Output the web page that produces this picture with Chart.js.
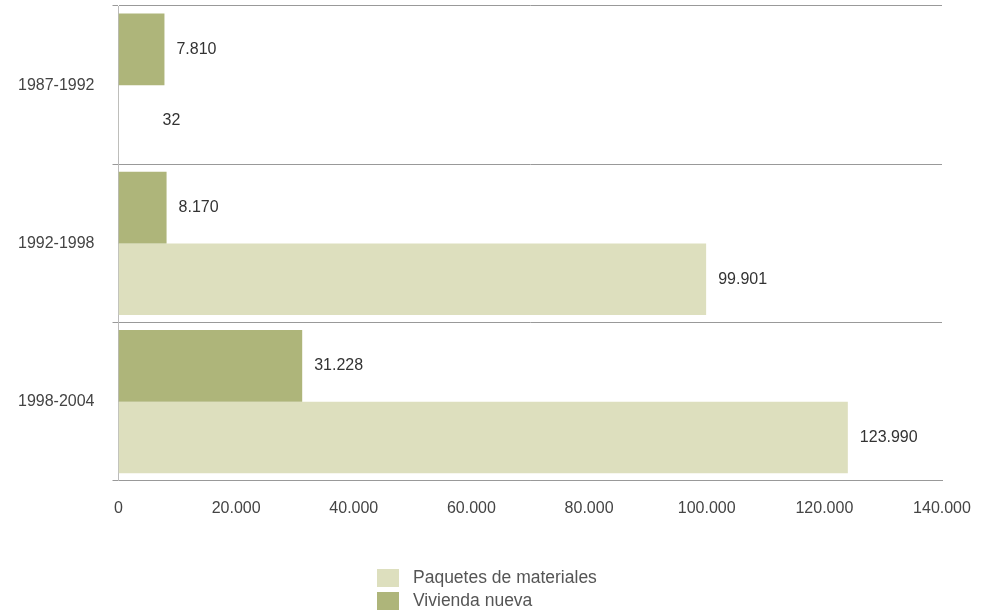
<!DOCTYPE html>
<html>
<head>
<meta charset="utf-8">
<script src="https://cdn.jsdelivr.net/npm/chart.js@4.4.1/dist/chart.umd.min.js"></script>
<style>
  body { margin: 0; background: #fff; font-family: "Liberation Sans", Arial, sans-serif; }
  #wrap { position: relative; width: 989px; height: 613px; }
  #legend { position: absolute; left: 377px; top: 566px; font-size: 17.5px; color: #555; }
  #legend div { display: flex; align-items: center; height: 23px; }
  #legend span.box { display: inline-block; width: 22px; height: 18px; margin-right: 14px; }
</style>
</head>
<body>
<div id="wrap">
  <canvas id="chart" width="989" height="613"></canvas>
  <div id="legend"></div>
</div>
<script>
// data
const periods = ['1987-1992', '1992-1998', '1998-2004'];
const viviendaNueva = [7810, 8170, 31228];
const paquetesMateriales = [32, 99901, 123990];
const xTicks = [0, 20000, 40000, 60000, 80000, 100000, 120000, 140000];

const colorVivienda = '#aeb57a';
const colorPaquetes = '#dddfbe';

// 123990 -> "123.990"
function fmt(n) {
    return String(n).replace(/\B(?=(\d{3})+(?!\d))/g, '.');
}

// value labels at the end of every bar
const valueLabels = {
    id: 'valueLabels',
    afterDatasetsDraw(chart) {
        const ctx = chart.ctx;
        const left = chart.scales.x.left;
        ctx.save();
        ctx.font = '16px "Liberation Sans", Arial, sans-serif';
        ctx.fillStyle = '#333';
        ctx.textBaseline = 'middle';
        chart.data.datasets.forEach((ds, i) => {
            chart.getDatasetMeta(i).data.forEach((bar, j) => {
                const x = Math.max(bar.x, left + 32) + 12;
                ctx.fillText(fmt(ds.data[j]), x, bar.y);
            });
        });
        ctx.restore();
    }
};

const ctx = document.getElementById('chart').getContext('2d');
new Chart(ctx, {
    type: 'bar',
    data: {
        labels: periods,
        datasets: [{
            label: 'Vivienda nueva',
            data: viviendaNueva,
            backgroundColor: colorVivienda
        }, {
            label: 'Paquetes de materiales',
            data: paquetesMateriales,
            backgroundColor: colorPaquetes
        }]
    },
    options: {
        indexAxis: 'y',
        responsive: false,
        animation: false,
        categoryPercentage: 0.905,
        barPercentage: 1.0,
        layout: {
            autoPadding: false,
            padding: { left: 0, right: 47, top: 6, bottom: 77 }
        },
        scales: {
            x: {
                min: 0,
                max: 140000,
                afterBuildTicks: axis => {
                    axis.ticks = xTicks.map(v => ({ value: v }));
                },
                // tick padding would otherwise also be added to the sides
                afterFit: axis => {
                    axis.paddingLeft = 0;
                    axis.paddingRight = 0;
                },
                grid: { display: false, drawTicks: false },
                border: { display: true, color: '#999' },
                ticks: {
                    padding: 18,
                    maxRotation: 0,
                    color: '#444',
                    font: { size: 16, family: '"Liberation Sans", Arial, sans-serif' },
                    callback: v => fmt(v)
                }
            },
            y: {
                afterFit: axis => {
                    axis.paddingTop = 0;
                    axis.paddingBottom = 0;
                },
                grid: { color: '#999', tickLength: 6, offset: true },
                border: { color: '#bbb' },
                ticks: {
                    padding: 18,
                    color: '#444',
                    font: { size: 16, family: '"Liberation Sans", Arial, sans-serif' }
                }
            }
        },
        plugins: {
            legend: { display: false },
            tooltip: { enabled: false }
        }
    },
    plugins: [valueLabels]
});

// legend below the chart, listed in reverse dataset order
const legend = document.getElementById('legend');
[['Paquetes de materiales', colorPaquetes], ['Vivienda nueva', colorVivienda]].forEach(item => {
    const row = document.createElement('div');
    row.innerHTML = '<span class="box" style="background:' + item[1] + '"></span>' + item[0];
    legend.appendChild(row);
});
</script>
</body>
</html>
